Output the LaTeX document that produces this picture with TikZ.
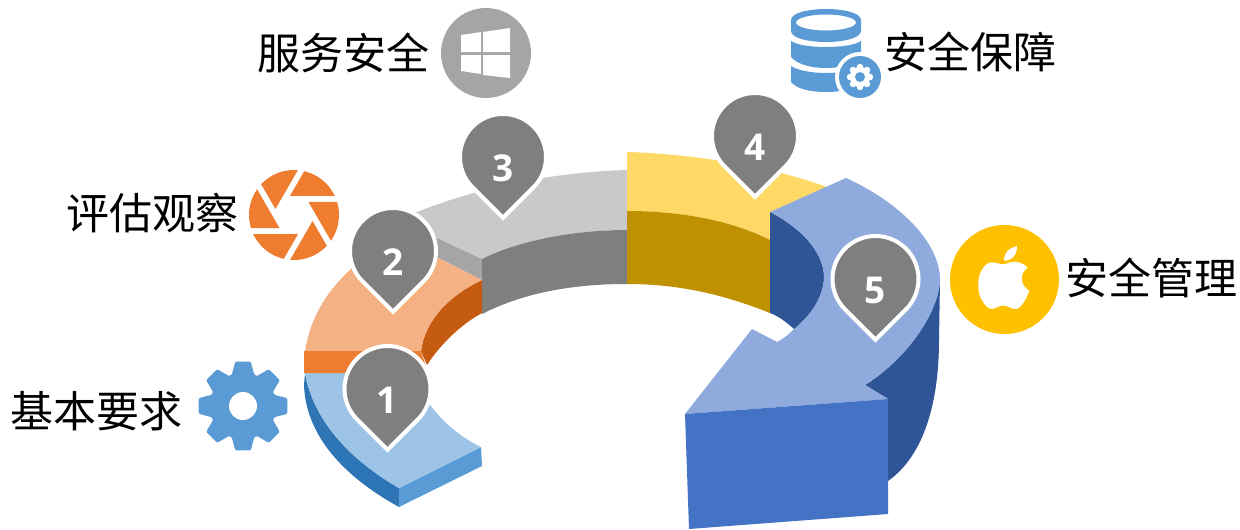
\documentclass[tikz,border=0pt]{standalone}
\usepackage{fontspec}
\setmainfont{Noto Sans CJK SC}
\newfontfamily\numfont[Scale=1]{Open Sans}
\tikzset{
  labeltext/.style={font=\fontsize{43}{47}\selectfont, text=black, inner sep=0pt, anchor=center},
  pinshape/.style={fill=pingray, draw=white, line width=4pt, line join=miter},
  pinnum/.style={font=\numfont\bfseries\fontsize{37}{40}\selectfont, text=white, inner sep=0pt, anchor=center}
}
\definecolor{pingray}{HTML}{7F7F7F}
\definecolor{b1top}{HTML}{9DC3E6}\definecolor{b1side}{HTML}{2E75B6}\definecolor{b1front}{HTML}{5B9BD5}
\definecolor{o1top}{HTML}{F4B183}\definecolor{o1band}{HTML}{ED7D31}\definecolor{o1side}{HTML}{C55A11}
\definecolor{g1top}{HTML}{C9C9C9}\definecolor{g1band}{HTML}{A5A5A5}\definecolor{g1side}{HTML}{7F7F7F}
\definecolor{y1top}{HTML}{FFD966}\definecolor{y1side}{HTML}{BF9000}
\definecolor{a1top}{HTML}{8FAADC}\definecolor{a1side}{HTML}{2F5597}\definecolor{a1front}{HTML}{4472C4}
\definecolor{appleyellow}{HTML}{FFC000}
\newcommand{\mypin}[4]{%
  \draw[pinshape] (#2,#3)++(135:43) arc[start angle=135,end angle=405,radius=43] -- (#2,#3+60.8) -- cycle;
  \node[pinnum] (#1) at (#2,#3+11) {#4};
}
\newcommand{\mygear}[6]{% cx cy ro ri color halfangle
  \begin{scope}[shift={(#1,#2)}]
    \fill[#5,rounded corners=1.2pt] (-20:#4) \foreach \a in {0,45,...,315} { -- (\a-20:#4) -- (\a-#6:#3) -- (\a+#6:#3) -- (\a+20:#4) } -- cycle;
    \fill[#5] (0,0) circle[radius=#4];
  \end{scope}
}
\begin{document}
\begin{tikzpicture}[x=1pt,y=-1pt]
\useasboundingbox (0,0) rectangle (1240,530);
% --- segment 1
\fill[b1side] (305,373) .. controls (313,420) and (350,460) .. (399,488) -- (399,507) .. controls (350,480) and (306,440) .. (304,385) -- cycle;
\fill[b1front] (399,488) -- (481,447) -- (482,466) -- (399,507) -- cycle;
\fill[b1top] (305,373) .. controls (313,420) and (350,460) .. (399,488) -- (481,447) .. controls (460,437) and (443,422) .. (430,405) -- (421,373) -- cycle;
% --- segment 3
\fill[g1band] (395,218) -- (482,259) -- (482,280) -- (395,236) -- cycle;
\fill[g1top] (627,170) .. controls (555,172) and (480,187) .. (417,212) -- (395,218) -- (482,259) .. controls (520,240) and (575,230) .. (627,230) -- cycle;
\fill[g1side] (482,259) .. controls (520,240) and (575,230) .. (627,230) -- (627,284) .. controls (575,284) and (525,292) .. (482,314) -- cycle;
% --- segment 2
\fill[o1side] (482,280) -- (482,313) .. controls (460,325) and (440,345) .. (427,365) -- (421,351) .. controls (425,320) and (450,295) .. (482,280) -- cycle;
\fill[o1top] (305,351) .. controls (311,315) and (328,290) .. (352,268) -- (395,236) -- (482,280) .. controls (450,295) and (425,320) .. (421,351) -- cycle;
\fill[o1band] (304,351) -- (304,373) -- (428,373) -- (421,351) -- cycle;
% --- segment 4
\fill[y1top] (627,152) .. controls (690,154) and (770,165) .. (835,190) -- (790,215) -- (770,240) .. controls (730,220) and (680,211) .. (627,211) -- cycle;
\fill[y1side] (627,211) .. controls (680,211) and (730,220) .. (770,240) -- (770,313) .. controls (725,295) and (680,284) .. (627,284) -- cycle;
% --- arrow
\fill[a1side] (770,212) .. controls (805,230) and (824,255) .. (824,277) .. controls (824,295) and (812,315) .. (794,329) .. controls (785,321) and (778,316) .. (770,313) -- cycle;
\fill[a1side] (940,280) -- (939,340) .. controls (939,400) and (925,455) .. (888,481) -- (888,399) -- (865,385) .. controls (905,360) and (938,315) .. (940,280) -- cycle;
\fill[a1top] (770,212) -- (846,178) .. controls (895,200) and (940,240) .. (940,280) .. controls (938,315) and (905,360) .. (865,385) -- (888,399) -- (685,414) -- (752,329) -- (777,342) .. controls (785,338) and (790,333) .. (794,329) .. controls (812,315) and (824,295) .. (824,277) .. controls (824,255) and (805,230) .. (770,212) -- cycle;
\fill[a1front] (685,414) -- (888,399) -- (888,514) -- (689,529) -- cycle;
% --- pins
\mypin{n3}{503}{157}{3}
\mypin{n2}{393}{251}{2}
\mypin{n1}{387.5}{389}{1}
\mypin{n4}{755}{136}{4}
\mypin{n5}{875.5}{279}{5}
% --- labels
\node[labeltext] (t1) at (96,411) {基本要求};
\node[labeltext] (t2) at (152.5,213) {评估观察};
\node[labeltext] (t3) at (343.5,53) {服务安全};
\node[labeltext] (t4) at (970.5,52) {安全保障};
\node[labeltext] (t5) at (1151,278) {安全管理};
% --- gear icon
\mygear{243}{406}{45}{33}{b1front}{10}
\fill[white] (243,406) circle[radius=14];
% --- aperture icon
\begin{scope}[shift={(294,215)}]
  \clip (0,0) circle[radius=45];
  \foreach \a in {0,60,...,300} {
    \fill[o1band!95!orange] (\a-102:19.5) -- +(\a:120) -- +(\a-60:120) -- cycle;
  }
\end{scope}
% --- windows icon
\fill[g1band] (486,53) circle[radius=45];
\fill[white] (461,35) -- (481,32) -- (481,52) -- (461,52) -- cycle;
\fill[white] (483,32) -- (510,28) -- (510,52) -- (483,52) -- cycle;
\fill[white] (461,55) -- (481,55) -- (481,74) -- (461,71) -- cycle;
\fill[white] (483,55) -- (510,55) -- (510,78) -- (483,75) -- cycle;
% --- database icon
\fill[b1front,even odd rule] (791,20) .. controls (791,13) and (808,9) .. (826,9) .. controls (844,9) and (861,13) .. (861,20) -- (861,31) .. controls (861,38) and (844,42) .. (826,42) .. controls (808,42) and (791,38) .. (791,31) -- cycle (826,22.5) ellipse[x radius=30,y radius=8];
\fill[b1front] (791,41) .. controls (797,45) and (810,47) .. (826,47) .. controls (842,47) and (855,45) .. (861,41) -- (861,57) .. controls (855,64) and (842,68) .. (826,68) .. controls (810,68) and (797,64) .. (791,57) -- cycle;
\fill[b1front] (791,66) .. controls (797,70) and (810,73) .. (826,73) .. controls (842,73) and (855,70) .. (861,66) -- (861,82) .. controls (855,89) and (842,92) .. (826,92) .. controls (810,92) and (797,89) .. (791,82) -- cycle;
\fill[white] (860,77) circle[radius=25];
\fill[b1front] (860,77) circle[radius=21];
\mygear{860}{77}{13}{9.5}{white}{11}
\fill[b1front] (860,77) circle[radius=5];
% --- apple icon
\fill[appleyellow] (1004.5,279.5) circle[radius=54.5];
\fill[white] (1004,260.7) .. controls (1004,251) and (1010,248) .. (1017,246) .. controls (1017,255) and (1012,261) .. (1004,260.7) -- cycle;
\fill[white] (1003.3,264.3) .. controls (1007,264) and (1010,261.5) .. (1015,261.7) .. controls (1020,262) and (1025,264.5) .. (1027.7,267.7) .. controls (1024,270) and (1021.7,274) .. (1021.7,278.3) .. controls (1021.7,284) and (1025,288.5) .. (1029.3,290.7) .. controls (1027.5,296) and (1024,303) .. (1020,307) .. controls (1018,309) and (1016,309.5) .. (1014,309) .. controls (1010,308) and (1007,305.5) .. (1003,305.5) .. controls (999,305.5) and (996,308.5) .. (992,309) .. controls (988,309) and (985,305) .. (983,302) .. controls (979,296) and (978,290) .. (978.3,283.3) .. controls (978.5,272) and (985,262.3) .. (992,262.3) .. controls (996,262.3) and (1000,264.3) .. (1003.3,264.3) -- cycle;
\end{tikzpicture}
\end{document}
